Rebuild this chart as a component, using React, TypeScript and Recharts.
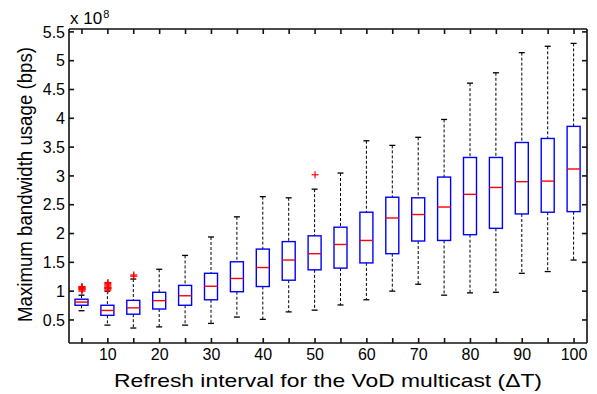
import React from "react";
import {
  ComposedChart,
  Bar,
  Scatter,
  XAxis,
  YAxis,
  Label,
} from "recharts";

// Refresh interval (ΔT) categories
const intervals = ["5", "10", "15", "20", "25", "30", "35", "40", "45", "50", "55", "60", "65", "70", "75", "80", "85", "90", "95", "100"];

// Box statistics, in units of 1e8 bps
const lowWhisker = [0.66, 0.41, 0.36, 0.38, 0.41, 0.44, 0.55, 0.51, 0.64, 0.67, 0.76, 0.85, 1.0, 1.12, 0.93, 0.97, 0.98, 1.31, 1.34, 1.54];
const lowerQuartile = [0.755, 0.58, 0.6, 0.69, 0.755, 0.85, 0.99, 1.08, 1.19, 1.37, 1.4, 1.49, 1.65, 1.87, 1.88, 1.98, 2.09, 2.34, 2.37, 2.38];
const medians = [0.81, 0.665, 0.71, 0.835, 0.92, 1.085, 1.22, 1.41, 1.54, 1.65, 1.81, 1.88, 2.27, 2.33, 2.46, 2.68, 2.8, 2.9, 2.91, 3.12];
const upperQuartile = [0.86, 0.755, 0.84, 0.98, 1.1, 1.31, 1.51, 1.73, 1.86, 1.96, 2.11, 2.37, 2.63, 2.62, 2.98, 3.32, 3.32, 3.58, 3.65, 3.86];
const highWhisker = [0.93, 1.0, 1.21, 1.38, 1.62, 1.94, 2.29, 2.64, 2.62, 2.77, 3.05, 3.61, 3.53, 3.67, 3.98, 4.61, 4.79, 5.14, 5.25, 5.3];

// Outliers (red "+")
const outlierIntervals = ["5", "5", "5", "5", "5", "5", "5", "5", "10", "10", "10", "10", "10", "10", "10", "10", "10", "15", "15", "50"];
const outlierValues = [1.0, 1.02, 1.03, 1.04, 1.05, 1.06, 1.07, 1.08, 1.02, 1.04, 1.05, 1.06, 1.07, 1.09, 1.11, 1.13, 1.15, 1.26, 1.28, 3.02];

const yTicks = [0.5, 1, 1.5, 2, 2.5, 3, 3.5, 4, 4.5, 5, 5.5];

const data = intervals.map((dt, i) => ({
  dt,
  lo: lowWhisker[i],
  q1: lowerQuartile[i],
  med: medians[i],
  q3: upperQuartile[i],
  hi: highWhisker[i],
}));

const outliers = outlierIntervals.map((dt, i) => ({ dt, v: outlierValues[i] }));

const FONT = "'Liberation Sans', Arial, Helvetica, sans-serif";

// Box + whiskers, scaled off the quartile rectangle the Bar hands us
function BoxShape(props: any) {
  const { x, y, width, height, payload } = props;
  const top = Math.min(y, y + height);
  const h = Math.abs(height);
  const k = h / (payload.q3 - payload.q1);
  const cx = x + width / 2;
  const yHi = top - (payload.hi - payload.q3) * k;
  const yLo = top + h + (payload.q1 - payload.lo) * k;
  const yMed = top + (payload.q3 - payload.med) * k;
  const cap = 3;
  return (
    <g>
      <line x1={cx} x2={cx} y1={yHi} y2={top} stroke="#000" strokeWidth={1} strokeDasharray="3 2" />
      <line x1={cx} x2={cx} y1={top + h} y2={yLo} stroke="#000" strokeWidth={1} strokeDasharray="3 2" />
      <line x1={cx - cap} x2={cx + cap} y1={yHi} y2={yHi} stroke="#000" strokeWidth={1.3} />
      <line x1={cx - cap} x2={cx + cap} y1={yLo} y2={yLo} stroke="#000" strokeWidth={1.3} />
      <rect x={x} y={top} width={width} height={h} fill="none" stroke="#0000ff" strokeWidth={1.4} />
      <line x1={x} x2={x + width} y1={yMed} y2={yMed} stroke="#ff0000" strokeWidth={1.4} />
    </g>
  );
}

function PlusShape(props: any) {
  const { cx, cy } = props;
  const s = 3.5;
  return (
    <g stroke="#ff0000" strokeWidth={1.2}>
      <line x1={cx - s} x2={cx + s} y1={cy} y2={cy} />
      <line x1={cx} x2={cx} y1={cy - s} y2={cy + s} />
    </g>
  );
}

function XTitle(props: any) {
  const { x, y, width } = props.viewBox;
  return (
    <text
      x={x + width / 2}
      y={y + 44}
      textAnchor="middle"
      fontSize={19}
      fontFamily={FONT}
      fill="#000"
      textLength={428}
      lengthAdjust="spacingAndGlyphs"
    >
      Refresh interval for the VoD multicast (ΔT)
    </text>
  );
}

function YTitle(props: any) {
  const { y, height } = props.viewBox;
  const cx = 31.5;
  const cy = y + height / 2 - 1.5;
  return (
    <text
      x={cx}
      y={cy}
      transform={`rotate(-90 ${cx} ${cy})`}
      textAnchor="middle"
      fontSize={21}
      fontFamily={FONT}
      fill="#000"
      textLength={275}
      lengthAdjust="spacingAndGlyphs"
    >
      Maximum bandwidth usage (bps)
    </text>
  );
}

function Multiplier(props: any) {
  const { x } = props.viewBox;
  return (
    <text x={x + 1} y={24} fontSize={17} fontFamily={FONT} fill="#000">
      x 10
      <tspan fontSize={11} dx={1} dy={-6}>8</tspan>
    </text>
  );
}

export default function App() {
  const tickStyle = { fontSize: 16, fill: "#000", fontFamily: FONT };
  return (
    <div style={{ position: "absolute", left: 0, top: 0, background: "#fff" }}>
      <ComposedChart
        width={597}
        height={394}
        data={data}
        margin={{ top: 28, right: 9, bottom: 0, left: 0 }}
      >
        <XAxis
          dataKey="dt"
          type="category"
          allowDuplicatedCategory={false}
          interval={0}
          height={51}
          stroke="#111"
          strokeWidth={1.6}
          tickSize={-5}
          tickMargin={11}
          tick={tickStyle}
          tickFormatter={(v: string) => (Number(v) % 10 === 0 ? v : "")}
        >
          <Label content={XTitle} />
        </XAxis>
        <XAxis
          xAxisId="top"
          orientation="top"
          dataKey="dt"
          type="category"
          allowDuplicatedCategory={false}
          interval={0}
          height={1}
          stroke="#111"
          strokeWidth={1.6}
          tickSize={-5}
          tickFormatter={() => ""}
        >
          <Label content={Multiplier} />
        </XAxis>
        <YAxis
          type="number"
          domain={[0.1, 5.55]}
          allowDataOverflow
          ticks={yTicks}
          width={69}
          stroke="#111"
          strokeWidth={1.6}
          tickSize={-5}
          tickMargin={9}
          tick={tickStyle}
          tickFormatter={(v: number) => String(v)}
        >
          <Label content={YTitle} />
        </YAxis>
        <YAxis
          yAxisId="right"
          orientation="right"
          type="number"
          domain={[0.1, 5.55]}
          allowDataOverflow
          ticks={yTicks}
          width={1}
          stroke="#111"
          strokeWidth={1.6}
          tickSize={-5}
          tickFormatter={() => ""}
        />
        <Bar
          dataKey={(d: any) => [d.q1, d.q3]}
          barSize={13}
          shape={BoxShape}
          isAnimationActive={false}
        />
        <Scatter
          data={outliers}
          dataKey="v"
          shape={PlusShape}
          isAnimationActive={false}
        />
      </ComposedChart>
    </div>
  );
}
